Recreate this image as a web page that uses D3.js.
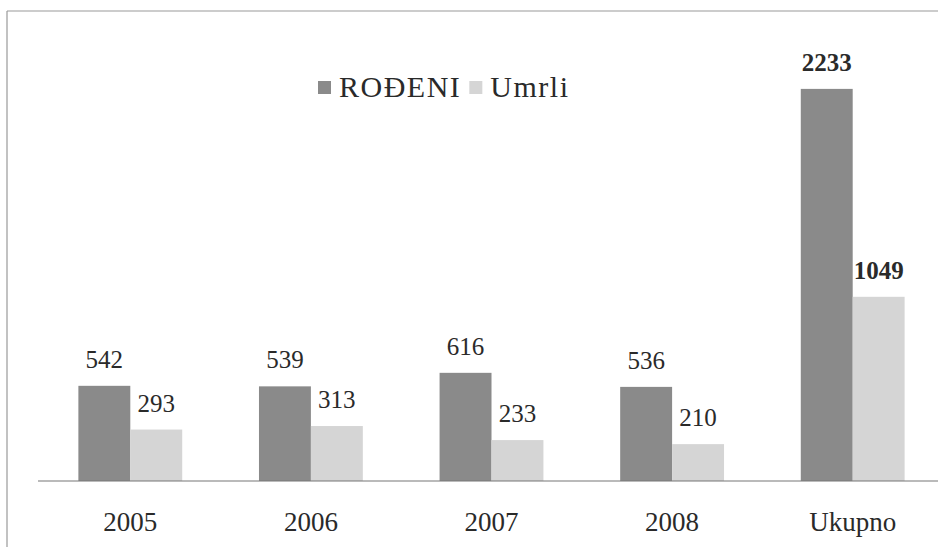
<!DOCTYPE html>
<html>
<head>
<meta charset="utf-8">
<script src="https://cdn.jsdelivr.net/npm/d3@7"></script>
<style>
  body { margin: 0; background: #fff; }
</style>
</head>
<body>
<svg id="chart" width="938" height="547"></svg>
<script>
var categories = ["2005", "2006", "2007", "2008", "Ukupno"];
var seriesNames = ["ROĐENI", "Umrli"];
var rodeni = [542, 539, 616, 536, 2233];
var umrli = [293, 313, 233, 210, 1049];
var colors = ["#8a8a8a", "#d5d5d5"];

var serif = "'Liberation Serif', 'Times New Roman', Tinos, 'DejaVu Serif', 'Noto Serif', Georgia, serif";

var width = 938, height = 547;
var baseY = 481;

var svg = d3.select("#chart");

// frame (scanned box, top + left)
svg.append("line").attr("x1", 7).attr("y1", 11).attr("x2", width).attr("y2", 11)
   .attr("stroke", "#999").attr("stroke-width", 1.2);
svg.append("line").attr("x1", 7).attr("y1", 11).attr("x2", 7).attr("y2", height)
   .attr("stroke", "#999").attr("stroke-width", 1.2);

var x = d3.scaleBand()
    .domain(categories)
    .range([40, 943])
    .paddingInner(0.425)
    .paddingOuter(0.2125);

var x1 = d3.scaleBand()
    .domain(seriesNames)
    .range([0, x.bandwidth()]);

var y = d3.scaleLinear()
    .domain([0, 2500])
    .range([baseY, 42]);

var data = categories.map(function(c, i) {
  return { cat: c, vals: [rodeni[i], umrli[i]] };
});

var groups = svg.selectAll(".grp")
  .data(data)
  .enter().append("g")
    .attr("class", "grp")
    .attr("transform", function(d) { return "translate(" + x(d.cat) + ",0)"; });

groups.selectAll("rect")
  .data(function(d) { return d.vals.map(function(v, j) { return { s: seriesNames[j], v: v, j: j }; }); })
  .enter().append("rect")
    .attr("x", function(d) { return x1(d.s); })
    .attr("y", function(d) { return y(d.v); })
    .attr("width", x1.bandwidth())
    .attr("height", function(d) { return baseY - y(d.v); })
    .attr("fill", function(d) { return colors[d.j]; });

groups.selectAll("text.val")
  .data(function(d) { return d.vals.map(function(v, j) { return { s: seriesNames[j], v: v, j: j, cat: d.cat }; }); })
  .enter().append("text")
    .attr("class", "val")
    .attr("x", function(d) { return x1(d.s) + x1.bandwidth() / 2; })
    .attr("y", function(d) { return y(d.v) - 18; })
    .attr("text-anchor", "middle")
    .style("font-family", serif)
    .attr("font-size", 25)
    .attr("fill", "#2a2a2a")
    .attr("font-weight", function(d) { return d.cat == "Ukupno" ? "bold" : "normal"; })
    .text(function(d) { return d.v; });

// baseline
svg.append("line").attr("x1", 38).attr("x2", width).attr("y1", baseY).attr("y2", baseY)
   .attr("stroke", "#777").attr("stroke-width", 1.2);

// category labels
var xAxis = d3.axisBottom(x).tickSize(0).tickPadding(0);
var ax = svg.append("g").attr("transform", "translate(0," + baseY + ")").call(xAxis);
ax.select(".domain").remove();
ax.attr("font-family", null);
ax.selectAll("text")
  .attr("y", 50)
  .attr("dy", 0)
  .attr("font-size", 27)
  .style("font-family", serif)
  .attr("fill", "#2a2a2a");

// legend
var legend = svg.append("g").attr("transform", "translate(318,0)");
var lx = 0;
seriesNames.forEach(function(n, i) {
  legend.append("rect").attr("x", lx).attr("y", 81).attr("width", 13).attr("height", 13)
    .attr("fill", colors[i]);
  var t = legend.append("text").attr("x", lx + 21).attr("y", 97)
    .style("font-family", serif)
    .style("letter-spacing", "1.5px")
    .attr("fill", "#2a2a2a")
    .attr("font-size", 30).text(n);
  lx += 21 + t.node().getComputedTextLength() + 8;
});
</script>
</body>
</html>
